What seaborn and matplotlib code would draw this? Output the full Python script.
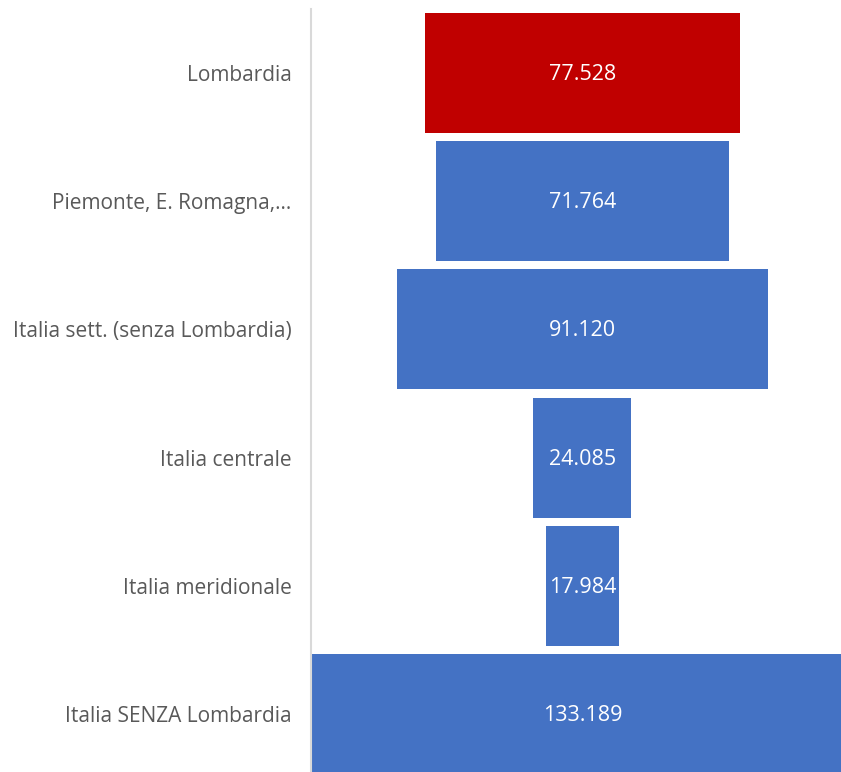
import pandas as pd
import matplotlib
matplotlib.use("Agg")
import matplotlib.pyplot as plt
import seaborn as sns

regions = ["Lombardia", "Piemonte, E. Romagna,…", "Italia sett. (senza Lombardia)",
           "Italia centrale", "Italia meridionale", "Italia SENZA Lombardia"]
values = [77.528, 71.764, 91.120, 24.085, 17.984, 133.189]
labels = ["77.528", "71.764", "91.120", "24.085", "17.984", "133.189"]
groups = ["Lombardia", "altro", "altro", "altro", "altro", "altro"]

df = pd.DataFrame({"region": regions, "value": values, "group": groups})

sns.set_theme(style="white")
plt.rcParams["font.family"] = ["Open Sans", "DejaVu Sans"]

fig = plt.figure(figsize=(8.41, 7.72), dpi=100)
ax = fig.add_axes([0.37, -6 / 772, 0.63, 769 / 772])

sns.barplot(data=df, x="value", y="region", hue="group", orient="h",
            palette={"Lombardia": "#C00000", "altro": "#4472C4"},
            width=0.936, dodge=False, legend=False, ax=ax, saturation=1)

# center each bar on zero to get the funnel shape
for patch in ax.patches:
    w = patch.get_width()
    if w > 0:
        patch.set_x(-w / 2)
        patch.set_linewidth(0)

for i, (v, t) in enumerate(zip(values, labels)):
    ax.text(0, i + 0.012, t, ha="center", va="center", color="white", fontsize=15.5)

ax.set_xlim(-133.189 / 2, 63.5)
ax.set_ylim(5.5, -0.5)
ax.set_xlabel("")
ax.set_ylabel("")
ax.set_xticks([])
ax.tick_params(axis="y", length=0, pad=14, labelsize=15, labelcolor="#595959")
for s in ["top", "right", "bottom"]:
    ax.spines[s].set_visible(False)
ax.spines["left"].set_color("#D9D9D9")
ax.spines["left"].set_linewidth(1.5)

fig.savefig("out.png", dpi=100)
